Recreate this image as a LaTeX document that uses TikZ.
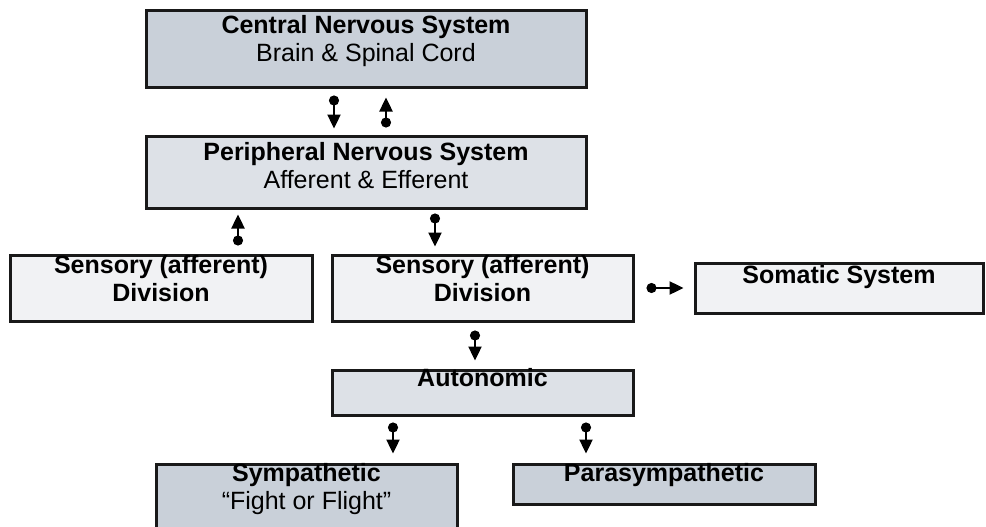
\documentclass[tikz,border=0pt]{standalone}
\usepackage{fontspec}
\setmainfont{Liberation Sans}
\usetikzlibrary{arrows.meta,positioning}
\definecolor{darkslate}{HTML}{C9D0D9}
\definecolor{midslate}{HTML}{DDE1E7}
\definecolor{paleslate}{HTML}{F1F2F4}

\begin{document}
\begin{tikzpicture}[
    x=1pt, y=-1pt,
    box/.style={draw=black!90, line width=3pt, inner sep=0pt},
    head/.style={anchor=north, align=center, inner sep=0pt, font=\fontsize{25}{28}\selectfont\bfseries},
    link/.style={{Circle[length=10pt]}-{Triangle[length=14pt,width=13pt]}, line width=2.4pt}
  ]
    \useasboundingbox (0,0) rectangle (986,527);

    \node[box, fill=darkslate, minimum width=440pt, minimum height=77pt] (cns) at (366,49.5) {};
    \node[box, fill=midslate, minimum width=440pt, minimum height=72pt] (pns) at (366,172) {};
    \node[box, fill=paleslate, minimum width=302pt, minimum height=66pt] (sensL) at (161,288) {};
    \node[box, fill=paleslate, minimum width=301pt, minimum height=66pt] (sensM) at (482.5,288) {};
    \node[box, fill=paleslate, minimum width=288pt, minimum height=50pt] (somatic) at (839,288) {};
    \node[box, fill=midslate, minimum width=301pt, minimum height=45pt] (auto) at (482.5,392.5) {};
    \node[box, fill=darkslate, minimum width=301pt, minimum height=80pt] (symp) at (306.5,504) {};
    \node[box, fill=darkslate, minimum width=302pt, minimum height=40pt] (para) at (664,484) {};

    \node[head, yshift=-5.5pt] (cnsText) at (cns.north) {Central Nervous System\\{\mdseries Brain \& Spinal Cord}};
    \node[head, yshift=-7.5pt] (pnsText) at (pns.north) {Peripheral Nervous System\\{\mdseries Afferent \& Efferent}};
    \node[head, yshift=-1.5pt] (sensLText) at (sensL.north) {Sensory (afferent)\\Division};
    \node[head, yshift=-1.5pt] (sensMText) at (sensM.north) {Sensory (afferent)\\Division};
    \node[head, yshift=-3.5pt] (somaticText) at (somatic.north) {Somatic System};
    \node[head] (autoText) at (auto.north) {Autonomic};
    \node[head, yshift=-0.5pt] (sympText) at (symp.north) {Sympathetic\\{\mdseries “Fight or Flight”}};
    \node[head, yshift=-0.5pt] (paraText) at (para.north) {Parasympathetic};

    \draw[link, shorten <=6pt, shorten >=6pt] ([xshift=-32pt]cns.south) -- ([xshift=-32pt]pns.north);
    \draw[link, shorten <=7pt, shorten >=8pt] ([xshift=20pt]pns.north) -- ([xshift=20pt]cns.south);
    \draw[link, shorten <=8pt, shorten >=5pt] ([xshift=77pt]sensL.north) -- ([xshift=-128pt]pns.south);
    \draw[link, shorten <=4pt, shorten >=7pt] ([xshift=69pt]pns.south) -- ([xshift=-47.5pt]sensM.north);
    \draw[link, shorten <=12pt, shorten >=10pt] (sensM.east) -- (somatic.west);
    \draw[link, shorten <=8pt, shorten >=8pt] ([xshift=-7.5pt]sensM.south) -- ([xshift=-7.5pt]auto.north);
    \draw[link, shorten <=6pt, shorten >=9pt] ([xshift=-89.5pt]auto.south) -- ([xshift=86.5pt]symp.north);
    \draw[link, shorten <=6pt, shorten >=9pt] ([xshift=103.5pt]auto.south) -- ([xshift=-78pt]para.north);
  \end{tikzpicture}
\end{document}
